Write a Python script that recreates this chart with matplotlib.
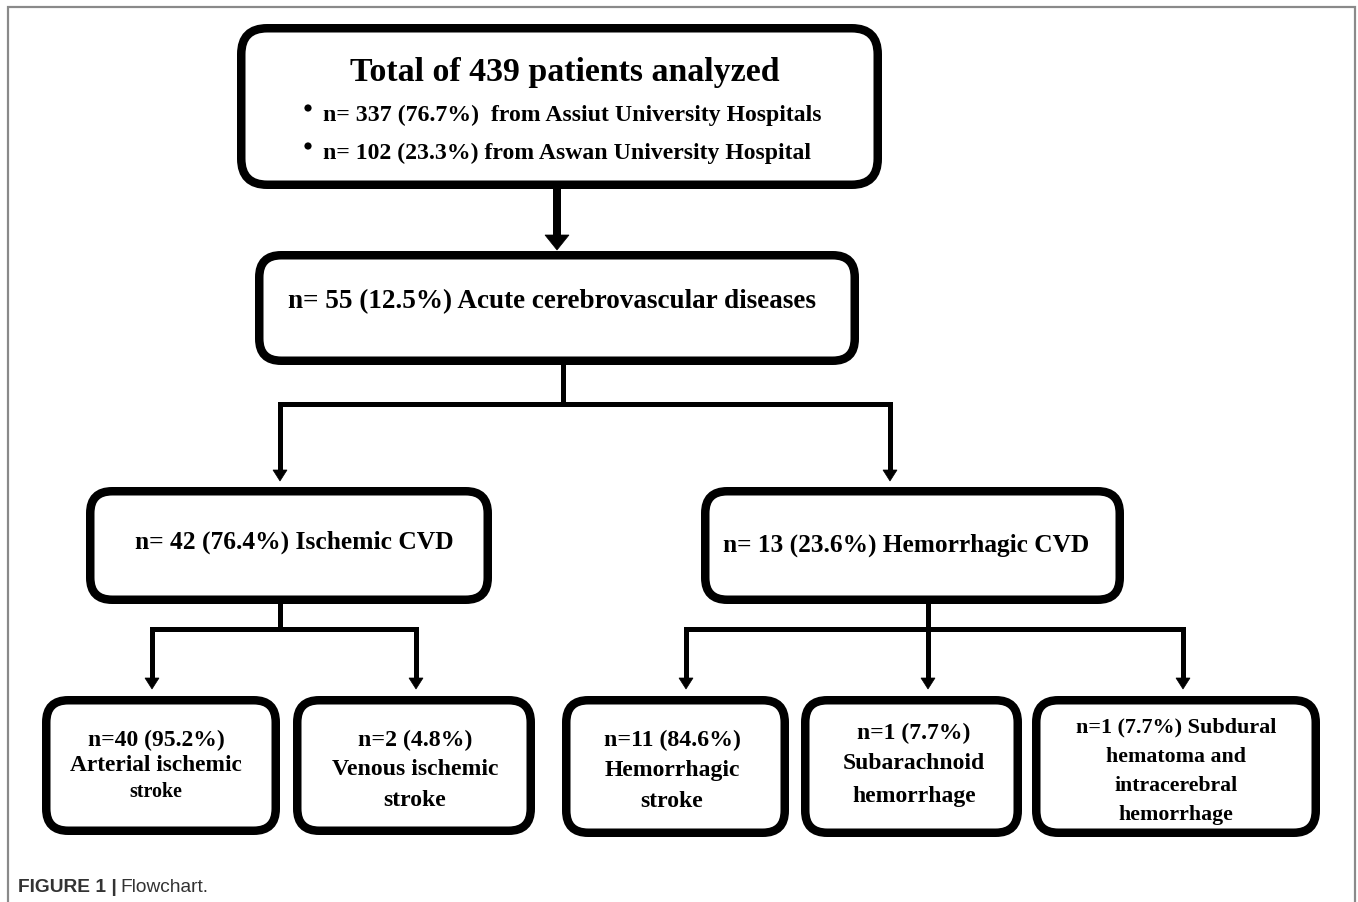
import matplotlib
matplotlib.use("Agg")
import matplotlib.pyplot as plt
from matplotlib.patches import FancyBboxPatch, Polygon, Circle

# ---- content ----
title = "Total of 439 patients analyzed"
bullets = ["n= 337 (76.7%)  from Assiut University Hospitals",
           "n= 102 (23.3%) from Aswan University Hospital"]
acute = "n= 55 (12.5%) Acute cerebrovascular diseases"
level2 = ["n= 42 (76.4%) Ischemic CVD", "n= 13 (23.6%) Hemorrhagic CVD"]
leaf_lines = [
    ["n=40 (95.2%)", "Arterial ischemic", "stroke"],
    ["n=2 (4.8%)", "Venous ischemic", "stroke"],
    ["n=11 (84.6%)", "Hemorrhagic", "stroke"],
    ["n=1 (7.7%)", "Subarachnoid", "hemorrhage"],
    ["n=1 (7.7%) Subdural", "hematoma and", "intracerebral", "hemorrhage"],
]
caption_bold = "FIGURE 1 |"
caption_reg = "Flowchart."

W, H = 1358, 903
fig = plt.figure(figsize=(W / 100, H / 100), dpi=100)
ax = fig.add_axes([0, 0, 1, 1])
ax.set_xlim(0, W)
ax.set_ylim(H, 0)
ax.axis("off")
renderer = fig.canvas.get_renderer()

PX = 72 / 100  # points per pixel
SERIF = "Liberation Serif"


def box(l, r, t, b, lw=8.5, rad=22):
    h = lw / 2
    p = FancyBboxPatch((l + h, t + h), (r - l) - lw, (b - t) - lw,
                       boxstyle=f"round,pad=0,rounding_size={rad}",
                       fc="white", ec="black", lw=lw * PX, zorder=3)
    ax.add_patch(p)


def line(xs, ys, lw=5):
    ax.plot(xs, ys, color="black", lw=lw * PX, solid_capstyle="projecting",
            solid_joinstyle="miter", zorder=2)


def arrow(x, y0, tip, lw=5, hw=7, hh=11):
    line([x, x], [y0, tip - hh + 1], lw)
    ax.add_patch(Polygon([[x - hw, tip - hh], [x + hw, tip - hh], [x, tip]],
                         closed=True, fc="black", ec="black", lw=0.5, zorder=2))


def fit(x, y, s, w, ha="center", family=SERIF, weight="bold", color="black"):
    t = ax.text(x, y, s, fontsize=10, ha=ha, va="center", family=family,
                weight=weight, color=color, zorder=5)
    bb = t.get_window_extent(renderer)
    t.set_fontsize(10 * w / bb.width)
    return t


# frame
ax.plot([8, 8, 1355, 1355], [903, 8, 8, 903], color="#8a8a8a", lw=2.2 * PX,
        solid_joinstyle="miter", zorder=1)

# boxes
box(237, 882, 25, 190, rad=26)
box(255, 859, 252, 366)
box(86, 492, 488, 605)
box(701, 1124, 488, 605)
leaf_boxes = [(42, 280, 697, 836), (293, 535, 697, 836), (562, 789, 697, 838),
              (801, 1022, 697, 838), (1032, 1320, 697, 838)]
for bxs in leaf_boxes:
    box(*bxs)

# connectors
arrow(557, 190, 251, lw=8, hw=12, hh=15)
line([563, 563], [366, 405])
line([280, 890], [405, 405])
arrow(280, 405, 482)
arrow(890, 405, 482)
line([280, 280], [605, 630])
line([152, 416], [630, 630])
arrow(152, 630, 690)
arrow(416, 630, 690)
line([928, 928], [605, 630])
line([686, 1183], [630, 630])
for xx in (686, 928, 1183):
    arrow(xx, 630, 690)

# texts
fit(565, 73, title, 431)
fit(323, 115, bullets[0], 499, ha="left")
fit(323, 153, bullets[1], 489, ha="left")
for by in (109, 147):
    ax.add_patch(Circle((308, by), 3.6, fc="black", ec="none", zorder=5))
fit(552, 302, acute, 528)
fit(294, 542, level2[0], 318)
fit(906, 545, level2[1], 367)

leaf_x = [156, 415, 672, 914, 1176]
leaf_y = [[740, 766, 792], [740, 770, 801], [740, 771, 802], [733, 764, 797],
          [727, 757, 786, 815]]
leaf_w = [[137, 173, 53], [115, 166, 63], [137, 136, 63], [113, 142, 124],
          [200, 140, 124, 115]]
for lines, cx, ys, ws in zip(leaf_lines, leaf_x, leaf_y, leaf_w):
    for s, yy, ww in zip(lines, ys, ws):
        fit(cx, yy, s, ww)

# caption
t1 = fit(18, 888, caption_bold, 99, ha="left", family="Liberation Sans",
         weight="bold", color="#333333")
fs = t1.get_fontsize()
bb = t1.get_window_extent(renderer)
ax.text(bb.x1 + 4, 888, caption_reg, fontsize=fs, ha="left", va="center",
        family="Liberation Sans", color="#333333", zorder=5)

fig.savefig("out.png", dpi=100)
